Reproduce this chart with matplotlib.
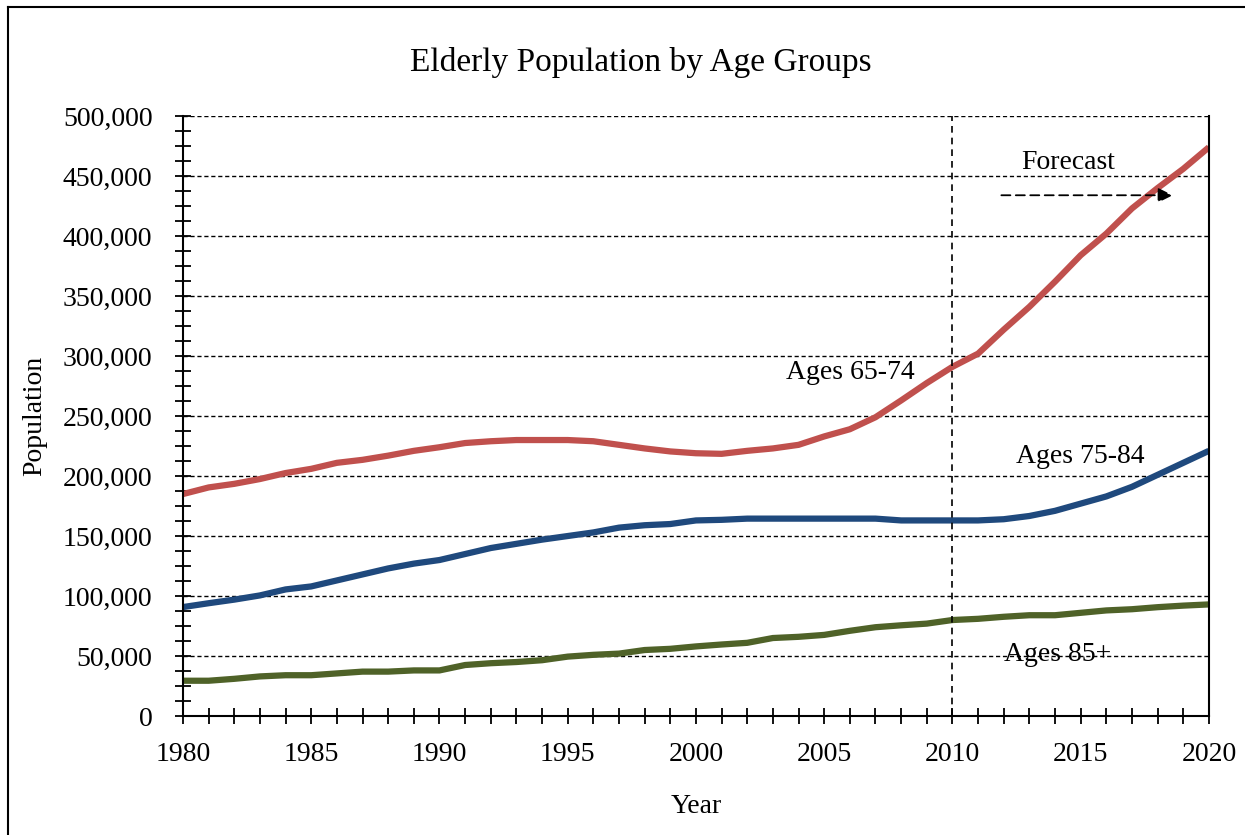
import numpy as np
import matplotlib
matplotlib.use('Agg')
import matplotlib.pyplot as plt
from matplotlib.ticker import MultipleLocator, FuncFormatter
from matplotlib.lines import Line2D

plt.rcParams['font.family'] = ['Liberation Serif', 'DejaVu Serif']

years = np.arange(1980, 2021)

# values
ages_65_74 = [185000, 190500, 193500, 197500, 202500, 206000, 211000, 213500, 217000, 221000,
              224000, 227500, 229000, 230000, 230000, 230000, 229000, 226000, 223000, 220500,
              219000, 218500, 221000, 223000, 226000, 233000, 239000, 249000, 263000, 277500,
              291000, 302000, 322000, 341000, 362000, 384000, 402000, 423000, 440000, 456000,
              474000]
ages_75_84 = [90800, 94000, 97000, 100500, 105500, 108000, 113000, 118000, 123000, 127000,
              130000, 135000, 140000, 143500, 147000, 150000, 153000, 157000, 159000, 160000,
              163000, 163500, 164500, 164500, 164500, 164500, 164500, 164500, 163000, 163000,
              163000, 163000, 164000, 166700, 171000, 177000, 183000, 191000, 201000, 211000,
              221000]
ages_85 = [29400, 29400, 31000, 33000, 34000, 34000, 35500, 37000, 37000, 38000,
           38000, 42500, 44000, 45000, 46500, 49500, 51000, 52000, 55000, 56000,
           58000, 59600, 61000, 65000, 66000, 67600, 71000, 74000, 75600, 77000,
           80000, 81000, 82700, 84000, 84000, 86000, 88000, 89000, 90700, 92000,
           93000]

fig = plt.figure(figsize=(12.45, 8.35), dpi=100)
ax = fig.add_axes([0.147, 0.1425, 0.824, 0.7185])

ax.plot(years, ages_65_74, color='#C0504D', lw=4.5, solid_capstyle='butt')
ax.plot(years, ages_75_84, color='#1F497D', lw=4.5, solid_capstyle='butt')
ax.plot(years, ages_85, color='#4F6228', lw=4.5, solid_capstyle='butt')

ax.set_xlim(1980, 2020)
ax.set_ylim(0, 500000)
ax.xaxis.set_major_locator(MultipleLocator(5))
ax.xaxis.set_minor_locator(MultipleLocator(1))
ax.yaxis.set_major_locator(MultipleLocator(50000))
ax.yaxis.set_minor_locator(MultipleLocator(12500))
ax.yaxis.set_major_formatter(FuncFormatter(lambda v, p: '{:,.0f}'.format(v)))
ax.tick_params(which='both', direction='inout', width=1.3, colors='black',
               labelsize=20, length=12)
ax.tick_params(axis='y', pad=16)
ax.tick_params(axis='x', pad=13)

ax.grid(axis='y', which='major', color='black', ls=(0, (3, 2)), lw=1)
for s in ax.spines.values():
    s.set_linewidth(1.5)
ax.spines['top'].set_visible(False)

ax.axvline(2010, color='black', ls=(0, (4, 3)), lw=1.2)

fig.text(0.515, 1 - 62 / 835, 'Elderly Population by Age Groups', fontsize=24,
         ha='center', va='center')
ax.set_xlabel('Year', fontsize=20)
ax.set_ylabel('Population', fontsize=20)
ax.xaxis.set_label_coords(0.5, -0.13)
ax.yaxis.set_label_coords(-0.1325, 0.5)

ax.text(2006.0, 286000, 'Ages 65-74', fontsize=20, ha='center', va='center')
ax.text(2015.0, 216000, 'Ages 75-84', fontsize=20, ha='center', va='center')
ax.text(2014.1, 51000, 'Ages 85+', fontsize=20, ha='center', va='center')
ax.text(2014.5, 461000, 'Forecast', fontsize=20, ha='center', va='center')
ax.annotate('', xy=(2018.7, 434000), xytext=(2011.8, 434000),
            arrowprops=dict(arrowstyle='-|>', color='black', lw=1.3, ls=(0, (5, 3)),
                            mutation_scale=22), zorder=5)

# outer frame: only top and left edges are visible
fig.add_artist(Line2D([8 / 1245, 1], [1 - 7 / 835, 1 - 7 / 835], color='black', lw=1.5,
                      transform=fig.transFigure))
fig.add_artist(Line2D([8 / 1245, 8 / 1245], [0, 1 - 7 / 835], color='black', lw=1.5,
                      transform=fig.transFigure))

fig.savefig('out.png', dpi=100)
